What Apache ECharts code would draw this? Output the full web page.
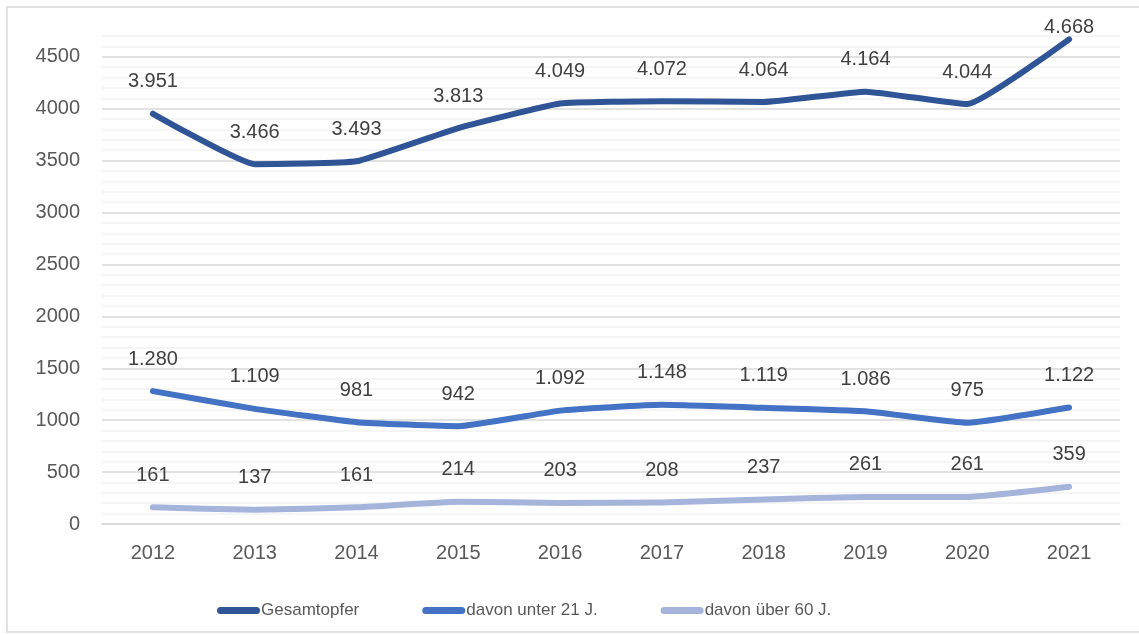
<!DOCTYPE html>
<html>
<head>
<meta charset="utf-8">
<script src="https://cdn.jsdelivr.net/npm/echarts@6/dist/echarts.min.js"></script>
<style>
  html, body { margin: 0; padding: 0; background: #fff; }
  #chart { width: 1139px; height: 634px; }
</style>
</head>
<body>
<div id="chart"></div>
<script>
// === DATA ===
const years = ['2012', '2013', '2014', '2015', '2016', '2017', '2018', '2019', '2020', '2021'];
const gesamt = [3951, 3466, 3493, 3813, 4049, 4072, 4064, 4164, 4044, 4668];
const unter21 = [1280, 1109, 981, 942, 1092, 1148, 1119, 1086, 975, 1122];
const ueber60 = [161, 137, 161, 214, 203, 208, 237, 261, 261, 359];
const seriesNames = ['Gesamtopfer', 'davon unter 21 J.', 'davon über 60 J.'];
const colors = ['#2F5597', '#4472C4', '#A5B4DB'];

const FONT = 'Liberation Sans';
const TEXT = '#595959';

// German thousands separator: 3951 -> 3.951
function deNum(v) {
    return String(v).replace(/\B(?=(\d{3})+(?!\d))/g, '.');
}

function makeSeries(name, data, color) {
    return {
        name: name,
        type: 'line',
        smooth: 0.12,
        symbol: 'circle',
        symbolSize: 0.1,
        showSymbol: true,
        data: data,
        lineStyle: { color: color, width: 6, cap: 'round', join: 'round' },
        itemStyle: { color: color },
        label: {
            show: true,
            position: 'top',
            distance: 22,
            color: '#404040',
            fontFamily: FONT,
            fontSize: 20,
            formatter: p => deNum(p.value)
        }
    };
}

const chart = echarts.init(document.getElementById('chart'));

const series = [
    makeSeries(seriesNames[0], gesamt, colors[0]),
    makeSeries(seriesNames[1], unter21, colors[1]),
    makeSeries(seriesNames[2], ueber60, colors[2])
];
// last point of the top line has its label tucked closer
series[0].data = gesamt.map((v, i) => i === gesamt.length - 1
    ? { value: v, label: { distance: 2 } }
    : v);

chart.setOption({
    animation: false,
    backgroundColor: '#fff',
    color: colors,
    graphic: [{
        type: 'rect',
        shape: { x: 7, y: 7, width: 1140, height: 625 },
        style: { fill: 'none', stroke: '#d9d9d9', lineWidth: 1.5 },
        silent: true
    }],
    grid: { left: 102, right: 19, top: 36, bottom: 110 },
    legend: {
        left: 212,
        top: 597,
        itemWidth: 43,
        itemHeight: 7,
        itemGap: 63,
        icon: 'path://M3.5,0 H39.5 A3.5,3.5 0 0 1 39.5,7 H3.5 A3.5,3.5 0 0 1 3.5,0 Z',
        textStyle: { color: TEXT, fontFamily: FONT, fontSize: 17, padding: [0, 0, 0, -4] },
        data: seriesNames
    },
    xAxis: {
        type: 'category',
        data: years,
        boundaryGap: true,
        axisTick: { show: false },
        axisLine: { lineStyle: { color: '#d9d9d9', width: 1.5 } },
        axisLabel: { color: TEXT, fontFamily: FONT, fontSize: 20, margin: 19 },
        splitLine: { show: false }
    },
    yAxis: {
        type: 'value',
        min: 0,
        max: 4700,
        interval: 100,
        axisLine: { show: false },
        axisTick: { show: false },
        axisLabel: {
            color: TEXT,
            fontFamily: FONT,
            fontSize: 20,
            margin: 22,
            formatter: v => (v % 500 === 0 ? String(v) : '')
        },
        splitLine: {
            lineStyle: {
                color: ['#d9d9d9', '#f2f2f2', '#f2f2f2', '#f2f2f2', '#f2f2f2'],
                width: 1.5
            }
        }
    },
    series: series
});
</script>
</body>
</html>
